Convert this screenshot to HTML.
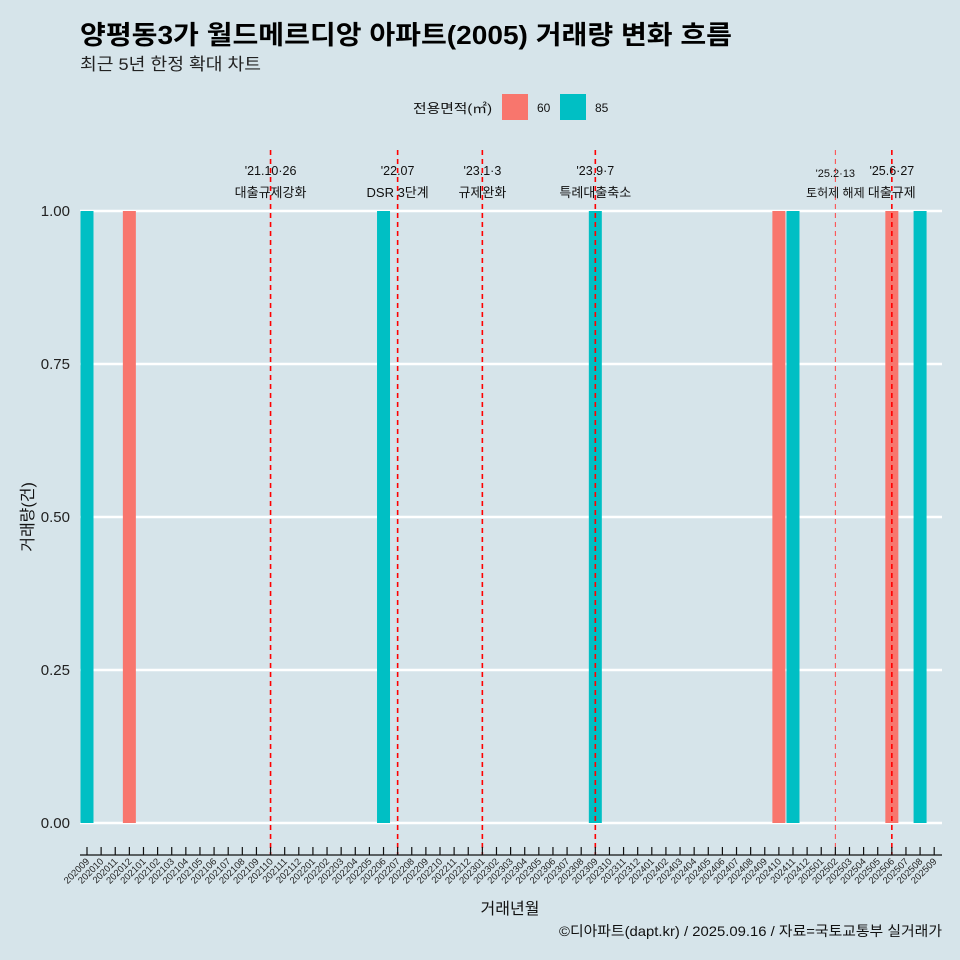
<!DOCTYPE html>
<html><head><meta charset="utf-8">
<style>
html,body{margin:0;padding:0;background:#d6e4ea;}
svg{display:block;font-family:"Liberation Sans","Noto Sans CJK KR",sans-serif;}
</style></head>
<body>
<svg id="chart" width="960" height="960" viewBox="0 0 960 960">
<rect x="0" y="0" width="960" height="960" fill="#d6e4ea"/>
<text x="80" y="44" font-size="26" font-weight="bold" fill="#000" textLength="652" lengthAdjust="spacingAndGlyphs">양평동3가 월드메르디앙 아파트(2005) 거래량 변화 흐름</text>
<text x="80" y="70" font-size="17" fill="#222" textLength="181" lengthAdjust="spacingAndGlyphs">최근 5년 한정 확대 차트</text>
<g>
<text x="413" y="113" font-size="13" fill="#111" textLength="79" lengthAdjust="spacingAndGlyphs">전용면적(㎡)</text>
<rect x="502" y="94" width="26" height="26" fill="#f8766d"/>
<text x="537" y="112" font-size="12" fill="#111">60</text>
<rect x="560" y="94" width="26" height="26" fill="#00bfc4"/>
<text x="595" y="112" font-size="12" fill="#111">85</text>
</g>
<g id="grid"></g>
<g id="bars"></g>
<g id="vlines"></g>
<g id="yaxis"></g>
<g id="xaxis"></g>
<text x="510" y="914" font-size="16" text-anchor="middle" fill="#111">거래년월</text>
<text transform="translate(33,517) rotate(-90)" font-size="16" text-anchor="middle" fill="#111">거래량(건)</text>
<text x="559" y="936" font-size="14" fill="#111" textLength="383" lengthAdjust="spacingAndGlyphs">©디아파트(dapt.kr) / 2025.09.16 / 자료=국토교통부 실거래가</text>
</svg>
<script>
const months = [];
for (let y = 2020; y <= 2025; y++) for (let m = 1; m <= 12; m++) {
  const k = y * 100 + m;
  if (k >= 202009 && k <= 202509) months.push(String(k));
}
const barMonths = ["202009","202012","202206","202309","202410","202411","202506","202508"];
const barAreas = ["85","60","85","85","60","85","60","85"];
const barCounts = [1,1,1,1,1,1,1,1];
const yTicks = [0, 0.25, 0.5, 0.75, 1.0];
const yTickLabels = ["0.00","0.25","0.50","0.75","1.00"];
const eventMonths = ["202110","202207","202301","202309","202502","202506"];
const eventDates = ["'21.10·26","'22.07","'23.1·3","'23.9·7","'25.2·13","'25.6·27"];
const eventNames = ["대출규제강화","DSR 3단계","규제완화","특례대출축소","토허제 해제","대출규제"];
const eventMinor = [false,false,false,false,true,false];

const NS = "http://www.w3.org/2000/svg";
const X0 = 87, STEP = 14.12, Y0 = 823, Y1 = 211;
const xs = i => X0 + STEP * i;
const ys = v => Y0 + (Y1 - Y0) * v;
function mk(tag, attrs, parent, txt) {
  const e = document.createElementNS(NS, tag);
  for (const k in attrs) e.setAttribute(k, attrs[k]);
  if (txt !== undefined) e.textContent = txt;
  parent.appendChild(e);
  return e;
}
const grid = document.getElementById("grid");
const yaxis = document.getElementById("yaxis");
yTicks.forEach((t, i) => {
  const l = mk("line", {x1: 80, x2: 942, y1: ys(t), y2: ys(t), stroke: "#fff", "stroke-width": 2.6}, grid);
  
  
  const tx = mk("text", {x: 70, y: ys(t) + 5, "font-size": 15, "text-anchor": "end", fill: "#222"}, yaxis, yTickLabels[i]);
  
  
});
const bars = document.getElementById("bars");
const colors = {"60": "#f8766d", "85": "#00bfc4"};
const BW = 13;
barMonths.forEach((m, i) => {
  const idx = months.indexOf(m);
  const r = mk("rect", {x: xs(idx) - BW / 2, y: ys(barCounts[i]), width: BW, height: ys(0) - ys(barCounts[i]), fill: colors[barAreas[i]]}, bars);
  
  
});
const vl = document.getElementById("vlines");
eventMonths.forEach((m, i) => {
  const x = xs(months.indexOf(m));
  const minor = eventMinor[i];
  const l = mk("line", {x1: x, x2: x, y1: 150, y2: 855, stroke: minor ? "#ff4444" : "#ff0000", "stroke-width": minor ? 1 : 1.6, "stroke-dasharray": "5,4"}, vl);
  
  
  const fs = minor ? 11 : 12.5;
  const t1 = mk("text", {x: x, y: minor ? 177 : 175, "font-size": fs, "text-anchor": "middle", fill: "#111"}, vl, eventDates[i]);
  
  
  const t2 = mk("text", {x: x, y: 197, "font-size": minor ? 12 : 13, "text-anchor": "middle", fill: "#111"}, vl, eventNames[i]);
  
  
});
const xa = document.getElementById("xaxis");
const ax = mk("line", {x1: 80, x2: 942, y1: 855, y2: 855, stroke: "#111", "stroke-width": 1.3}, xa);


months.forEach((m, i) => {
  const x = xs(i);
  const tk = mk("line", {x1: x, x2: x, y1: 847, y2: 855, stroke: "#111", "stroke-width": 1.2}, xa);
  
  
  const t = mk("text", {transform: "translate(" + (x + 3) + ",862) rotate(-45)", "font-size": 9.5, "text-anchor": "end", fill: "#222"}, xa, m);
  
  
});
</script>
</body></html>
